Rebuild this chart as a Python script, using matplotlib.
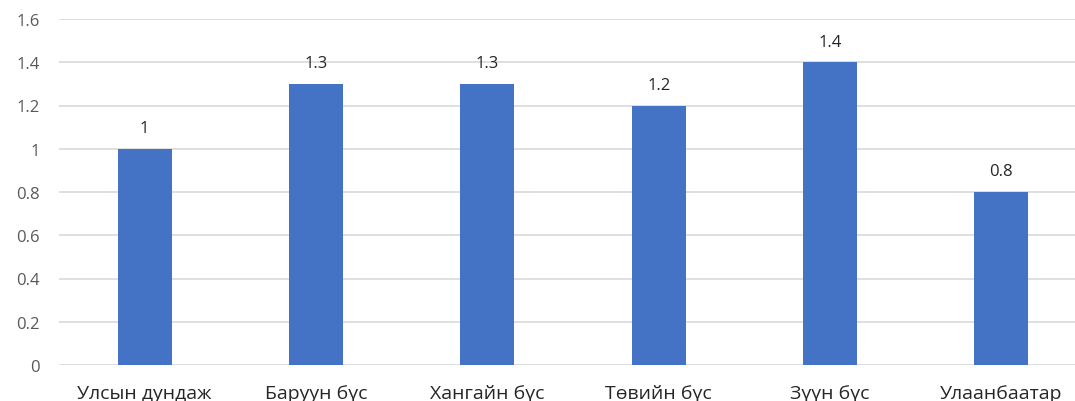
import matplotlib.pyplot as plt

regions = ["Улсын дундаж", "Баруун бүс", "Хангайн бүс", "Төвийн бүс", "Зүүн бүс", "Улаанбаатар"]
values = [1.0, 1.3, 1.3, 1.2, 1.4, 0.8]
value_labels = ["1", "1.3", "1.3", "1.2", "1.4", "0.8"]
y_ticks = [0, 0.2, 0.4, 0.6, 0.8, 1.0, 1.2, 1.4, 1.6]
y_tick_labels = ["0", "0.2", "0.4", "0.6", "0.8", "1", "1.2", "1.4", "1.6"]

plt.rcParams['font.family'] = ['Open Sans', 'DejaVu Sans']

fig = plt.figure(figsize=(10.75, 4.02), dpi=100)
ax = fig.add_axes([59 / 1075, 1 - 366 / 402, 1 - 59 / 1075, (366 - 20) / 402])

x = range(len(regions))
bars = ax.bar(x, values, width=0.315, color="#4472C4", zorder=3)

for bar, lab in zip(bars, value_labels):
    ax.annotate(lab, (bar.get_x() + bar.get_width() / 2, bar.get_height()),
                xytext=(0, 9), textcoords="offset points",
                ha="center", va="bottom", fontsize=12, color="#262626")

ax.set_xlim(-0.5, 5.43)
ax.set_ylim(0, 1.6)
ax.set_yticks(y_ticks)
ax.set_yticklabels(y_tick_labels)
ax.set_xticks(list(x))
ax.set_xticklabels(regions)
ax.grid(axis="y", color="#D9D9D9", linewidth=1.2, zorder=0)
for s in ax.spines.values():
    s.set_visible(False)
ax.tick_params(axis="y", length=0, pad=14, labelsize=12, labelcolor="#595959")
ax.tick_params(axis="x", length=0, pad=14, labelsize=14, labelcolor="#262626")

fig.savefig("out.png", dpi=100)
